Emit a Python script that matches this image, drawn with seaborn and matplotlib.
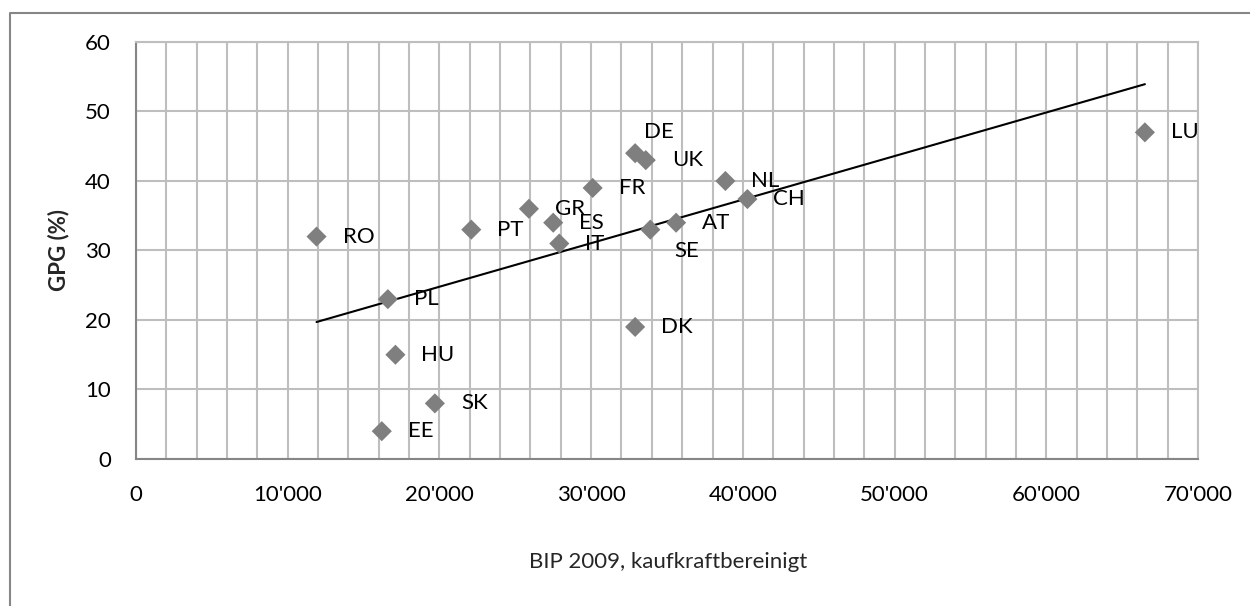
import matplotlib
matplotlib.use("Agg")
import matplotlib.pyplot as plt
import matplotlib.ticker as mticker
from matplotlib.lines import Line2D
import pandas as pd
import seaborn as sns

# =====================================================
# Data
# =====================================================

countries = ["RO", "PL", "HU", "EE", "SK", "PT", "GR", "ES", "IT",
             "FR", "DE", "UK", "DK", "SE", "AT", "NL", "CH", "LU"]
bip_2009 = [11900, 16600, 17100, 16200, 19700, 22100, 25900, 27500, 27900,
            30100, 32900, 33600, 32900, 33900, 35600, 38850, 40300, 66500]
gpg = [32, 23, 15, 4, 8, 33, 36, 34, 31,
       39, 44, 43, 19, 33, 34, 40, 37.4, 47]

df = pd.DataFrame({"country": countries, "bip": bip_2009, "gpg": gpg})

# label placement (pixels from the point); default is to the right
label_offsets = {"DE": (9, 21), "SE": (24, -21)}

# =====================================================
# Style
# =====================================================

sns.set_style("white")
plt.rcParams["font.family"] = ["Lato", "DejaVu Sans"]
FS = 16

grid_col = "#BEBEBE"
axis_col = "#868686"
marker_col = "#7F7F7F"

fig = plt.figure(figsize=(12.5, 6.06), dpi=100)
ax = fig.add_axes([0.1088, 0.2426, 0.8496, 0.6881])

# =====================================================
# Plot
# =====================================================

sns.regplot(data=df, x="bip", y="gpg", ci=None, scatter=False, ax=ax,
            line_kws=dict(color="black", lw=1.5, zorder=3))
sns.scatterplot(data=df, x="bip", y="gpg", marker="D", s=105,
                color=marker_col, edgecolor="none", ax=ax, zorder=4)

for c, xv, yv in zip(countries, bip_2009, gpg):
    dx, dy = label_offsets.get(c, (26, 0))
    ax.annotate(c, (xv, yv), xytext=(dx, dy), textcoords="offset pixels",
                ha="left", va="center", fontsize=FS, color="black", zorder=5)

# =====================================================
# Axes
# =====================================================

ax.set_xlim(0, 70000)
ax.set_ylim(0, 60)
ax.xaxis.set_major_locator(mticker.MultipleLocator(10000))
ax.xaxis.set_minor_locator(mticker.MultipleLocator(2000))
ax.yaxis.set_major_locator(mticker.MultipleLocator(10))
ax.xaxis.set_major_formatter(
    mticker.FuncFormatter(lambda v, p: f"{int(v):,}".replace(",", "'")))

ax.grid(True, which="major", color=grid_col, lw=1.5)
ax.xaxis.grid(True, which="minor", color=grid_col, lw=1.5)
ax.set_axisbelow(True)

for side in ["top", "right"]:
    ax.spines[side].set_color(grid_col)
    ax.spines[side].set_linewidth(1.5)
for side in ["left", "bottom"]:
    ax.spines[side].set_color(axis_col)
    ax.spines[side].set_linewidth(1.5)

ax.tick_params(axis="both", which="major", direction="out", length=6,
               width=1.2, color=axis_col, labelsize=FS, labelcolor="black")
ax.tick_params(axis="x", which="major", pad=13)
ax.tick_params(axis="y", which="major", pad=12)
ax.tick_params(axis="x", which="minor", length=0)

ax.set_xlabel("")
ax.set_ylabel("")
fig.text(668 / 1250, 1 - 562 / 606, "BIP 2009, kaufkraftbereinigt",
         ha="center", va="center", fontsize=FS)
fig.text(59 / 1250, 1 - 250 / 606, "GPG (%)", rotation=90, ha="center",
         va="center", fontsize=FS, fontweight="bold")

# outer chart frame (left and top edges visible)
fig.add_artist(Line2D([10 / 1250, 10 / 1250, 1.0],
                      [0.0, 1 - 12.7 / 606, 1 - 12.7 / 606],
                      transform=fig.transFigure, color=axis_col, lw=1.5))

fig.savefig("out.png", dpi=100, facecolor="white")
